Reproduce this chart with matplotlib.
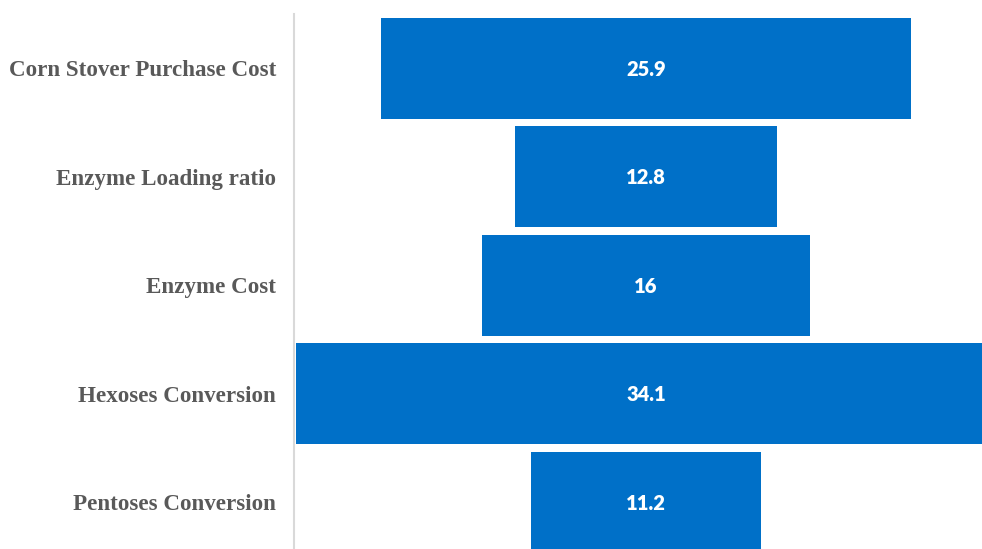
import matplotlib

matplotlib.use("Agg")
import matplotlib.pyplot as plt

# Sensitivity ranking, drawn as centred (funnel-style) bars
categories = [
    "Corn Stover Purchase Cost",
    "Enzyme Loading ratio",
    "Enzyme Cost",
    "Hexoses Conversion",
    "Pentoses Conversion",
]
values = [25.9, 12.8, 16, 34.1, 11.2]
value_labels = ["25.9", "12.8", "16", "34.1", "11.2"]

BAR_COLOR = "#0070C8"
LABEL_COLOR = "#595959"

W, H, DPI = 982, 549, 100
fig = plt.figure(figsize=(W / DPI, H / DPI), dpi=DPI)

# axes runs past the right and bottom edges of the figure on purpose
left_px, right_px = 294, 998
top_px, bottom_px = 14, 556.5
ax = fig.add_axes([left_px / W, 1 - bottom_px / H,
                   (right_px - left_px) / W, (bottom_px - top_px) / H])

ypos = list(range(len(categories)))
ax.barh(ypos, values, left=[-v / 2 for v in values], height=0.93,
        color=BAR_COLOR, edgecolor="none")

for y, v, lab in zip(ypos, values, value_labels):
    ax.text(0, y + 0.01, lab, ha="center", va="center", color="white",
            fontsize=14.5, fontweight="heavy", family=["Lato", "DejaVu Sans"])

half = (right_px - left_px) / 2 / 20.5
ax.set_xlim(-half, half)
ax.set_ylim(len(categories) - 0.5, -0.5)

ax.set_yticks(ypos)
ax.set_yticklabels(categories, fontsize=16.6, fontweight="bold",
                   color=LABEL_COLOR, family="Liberation Serif")
ax.tick_params(axis="y", length=0, pad=13)
ax.set_xticks([])

for s in ("top", "right", "bottom"):
    ax.spines[s].set_visible(False)
ax.spines["left"].set_color("#d9d9d9")
ax.spines["left"].set_linewidth(1.5)

fig.savefig("out.png", dpi=DPI)
